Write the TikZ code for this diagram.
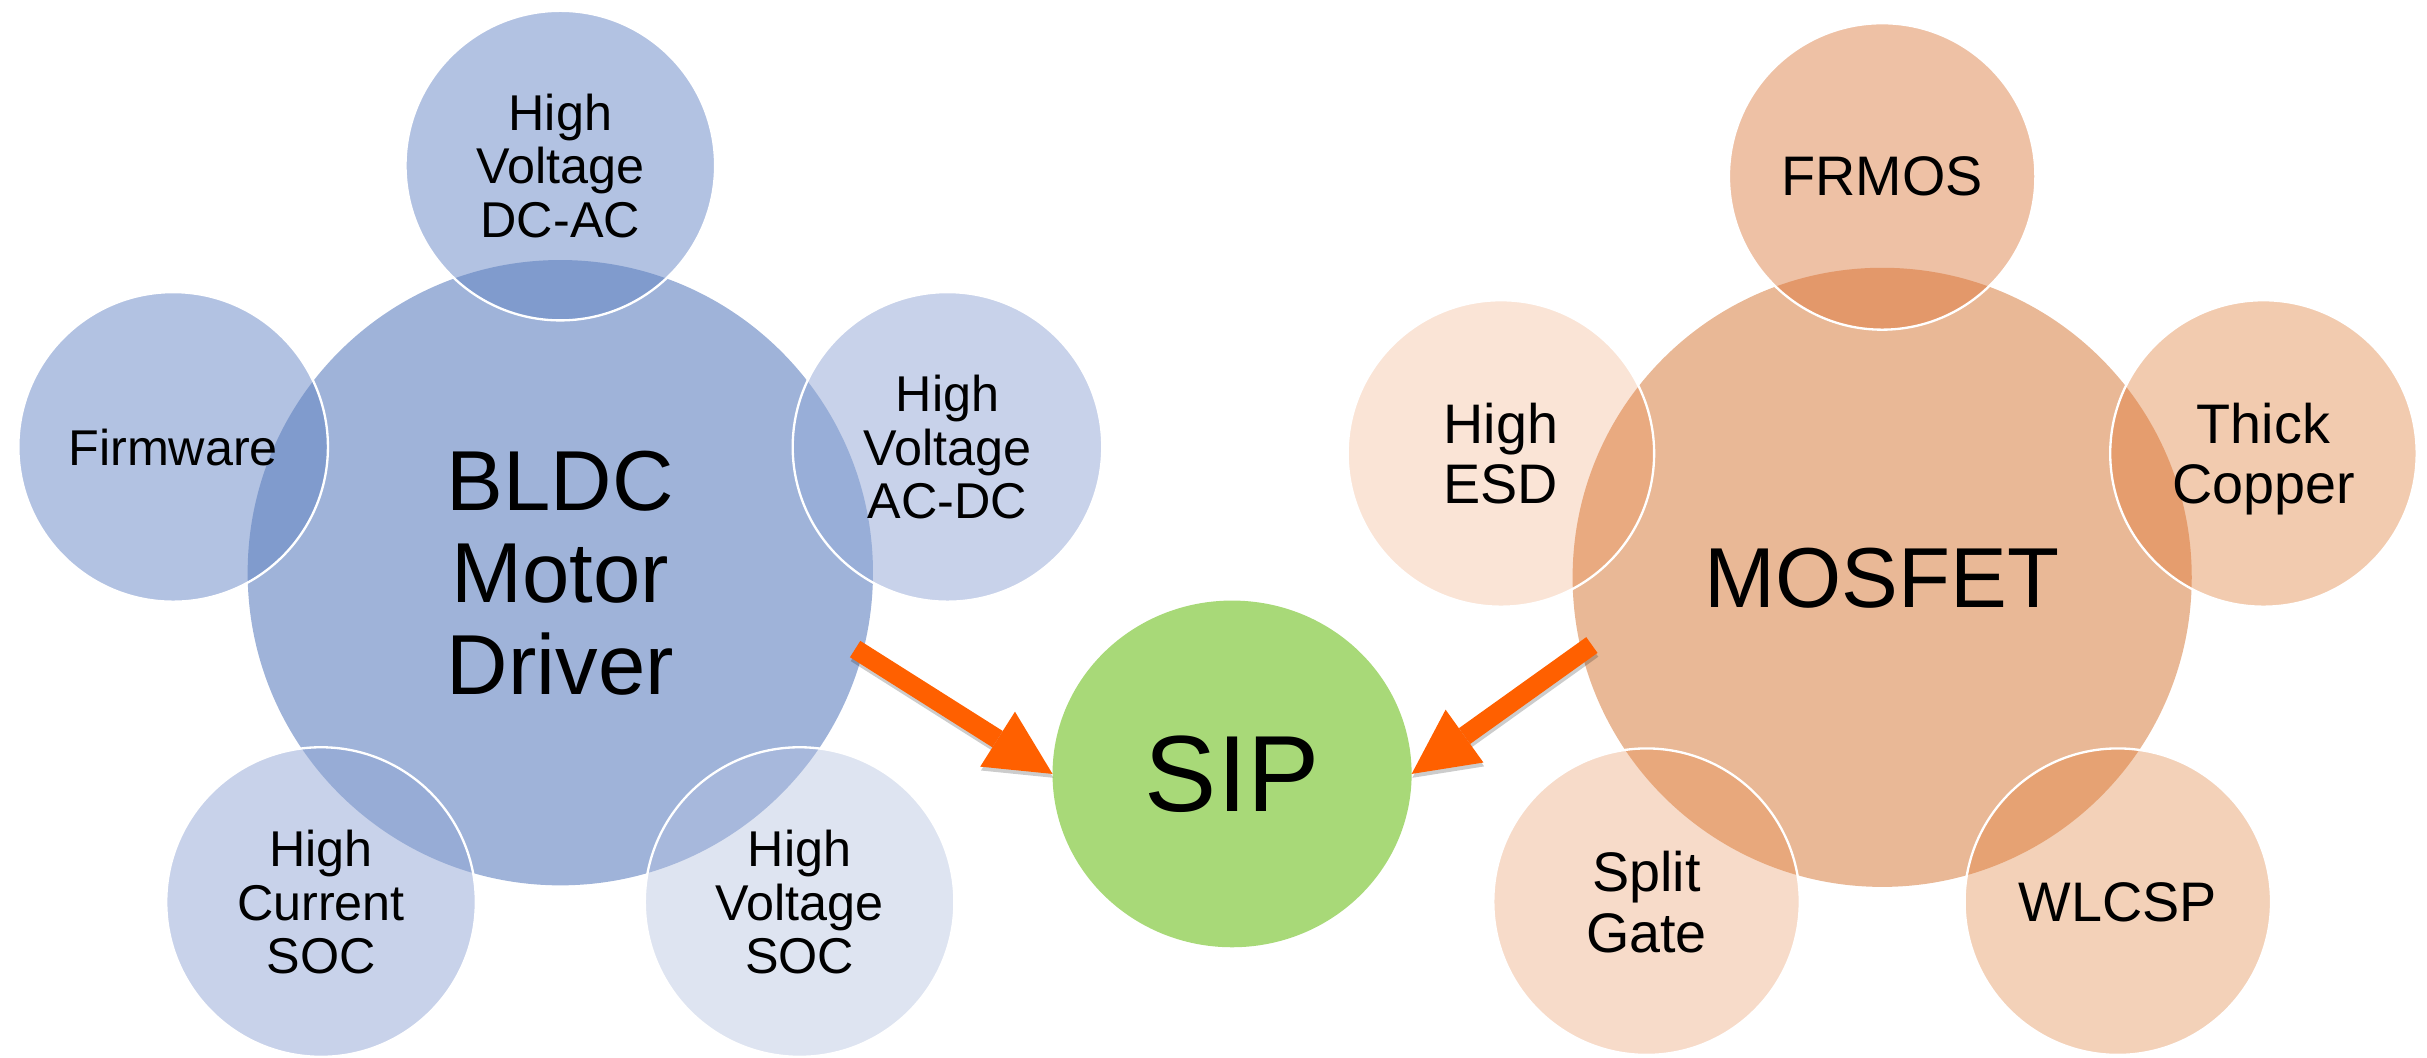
\documentclass[tikz,border=0pt]{standalone}
\usepackage{fontspec}
\setmainfont{Liberation Sans}
\usetikzlibrary{shapes.geometric,arrows.meta,calc}
\definecolor{bldcM}{HTML}{9FB3D9}
\definecolor{dcacF}{HTML}{B2C2E2}\definecolor{dcacO}{HTML}{809BCD}
\definecolor{firmF}{HTML}{B2C2E2}\definecolor{firmO}{HTML}{809BCD}
\definecolor{acdcF}{HTML}{C8D2EA}\definecolor{acdcO}{HTML}{98AED8}
\definecolor{hcsF}{HTML}{C8D2EA}\definecolor{hcsO}{HTML}{97ACD6}
\definecolor{hvsF}{HTML}{DEE4F1}\definecolor{hvsO}{HTML}{A7B8DC}
\definecolor{mosM}{HTML}{E9B896}
\definecolor{frmF}{HTML}{EEC1A5}\definecolor{frmO}{HTML}{E3986A}
\definecolor{esdF}{HTML}{FAE4D6}\definecolor{esdO}{HTML}{E9AA80}
\definecolor{thkF}{HTML}{F2CBAF}\definecolor{thkO}{HTML}{E59D6E}
\definecolor{spgF}{HTML}{F7DBC9}\definecolor{spgO}{HTML}{E8A87C}
\definecolor{wlcF}{HTML}{F3D1B8}\definecolor{wlcO}{HTML}{E6A273}
\definecolor{sipC}{HTML}{A8D978}
\definecolor{arrC}{HTML}{FF6000}
\tikzset{
  hub/.style={circle, minimum size=#1, inner sep=0pt, outer sep=0pt, text depth=0pt,
    align=center, font=\fontsize{55}{59.5}\selectfont},
  satA/.style={circle, minimum size=200pt, inner sep=0pt, outer sep=0pt, draw=white,
    line width=1.5pt, text depth=0pt, align=center, font=\fontsize{32.5}{34.5}\selectfont},
  satB/.style={circle, minimum size=198pt, inner sep=0pt, outer sep=0pt, draw=white,
    line width=1.5pt, text depth=0pt, align=center, font=\fontsize{36}{39}\selectfont},
  ovA/.style={path picture={\fill[#1] (bldc.center) circle[radius=202pt];}},
  ovB/.style={path picture={\fill[#1] (mos.center) circle[radius=200pt];}},
  bigarrow/.style={draw=arrC, line width=12.5pt,
    -{Triangle[length=42pt,width=42pt,line width=0pt]}},
  arrshadow/.style={draw=black, opacity=.2, line width=12.5pt,
    -{Triangle[length=42pt,width=42pt,line width=0pt]}},
}
\begin{document}
\begin{tikzpicture}[x=1pt,y=1pt]
\useasboundingbox (0,0) rectangle (1568,683);
% left group
\node[hub=404pt, fill=bldcM] (bldc) at (362,313) {BLDC\\Motor\\Driver};
\node[satA, fill=dcacF, ovA=dcacO] (dcac) at ($(bldc.center)+(90:263)$) {High\\Voltage\\DC-AC};
\node[satA, fill=firmF, ovA=firmO] (firm) at ($(bldc.center)+(162:263)$) {Firmware};
\node[satA, fill=acdcF, ovA=acdcO] (acdc) at ($(bldc.center)+(18:263)$) {High\\Voltage\\AC-DC};
\node[satA, fill=hcsF, ovA=hcsO] (hcs) at ($(bldc.center)+(234:263)$) {High\\Current\\SOC};
\node[satA, fill=hvsF, ovA=hvsO] (hvs) at ($(bldc.center)+(306:263)$) {High\\Voltage\\SOC};
% right group
\node[hub=400pt, fill=mosM] (mos) at (1216,310) {MOSFET};
\node[satB, fill=frmF, ovB=frmO] (frm) at ($(mos.center)+(90:259)$) {FRMOS};
\node[satB, fill=esdF, ovB=esdO] (esd) at ($(mos.center)+(162:259)$) {High\\ESD};
\node[satB, fill=thkF, ovB=thkO] (thk) at ($(mos.center)+(18:259)$) {Thick\\Copper};
\node[satB, fill=spgF, ovB=spgO] (spg) at ($(mos.center)+(234:259)$) {Split\\Gate};
\node[satB, fill=wlcF, ovB=wlcO] (wlc) at ($(mos.center)+(306:259)$) {WLCSP};
% SIP
\node[ellipse, minimum width=232pt, minimum height=224pt, inner sep=0pt, outer sep=0pt,
  fill=sipC, text depth=0pt, font=\fontsize{70}{72}\selectfont] (sip) at (796,183) {SIP};
% arrows
\draw[arrshadow, shorten <=-5.5pt] ([shift={(0.5,-2.5)}]bldc.-15) -- ([shift={(0.5,-2.5)}]sip.west);
\draw[bigarrow, shorten <=-5.5pt] (bldc.-15) -- (sip.west);
\draw[arrshadow, shorten <=-8pt] ([shift={(0.5,-2.5)}]mos.194.4) -- ([shift={(0.5,-2.5)}]sip.east);
\draw[bigarrow, shorten <=-8pt] (mos.194.4) -- (sip.east);
\end{tikzpicture}
\end{document}
